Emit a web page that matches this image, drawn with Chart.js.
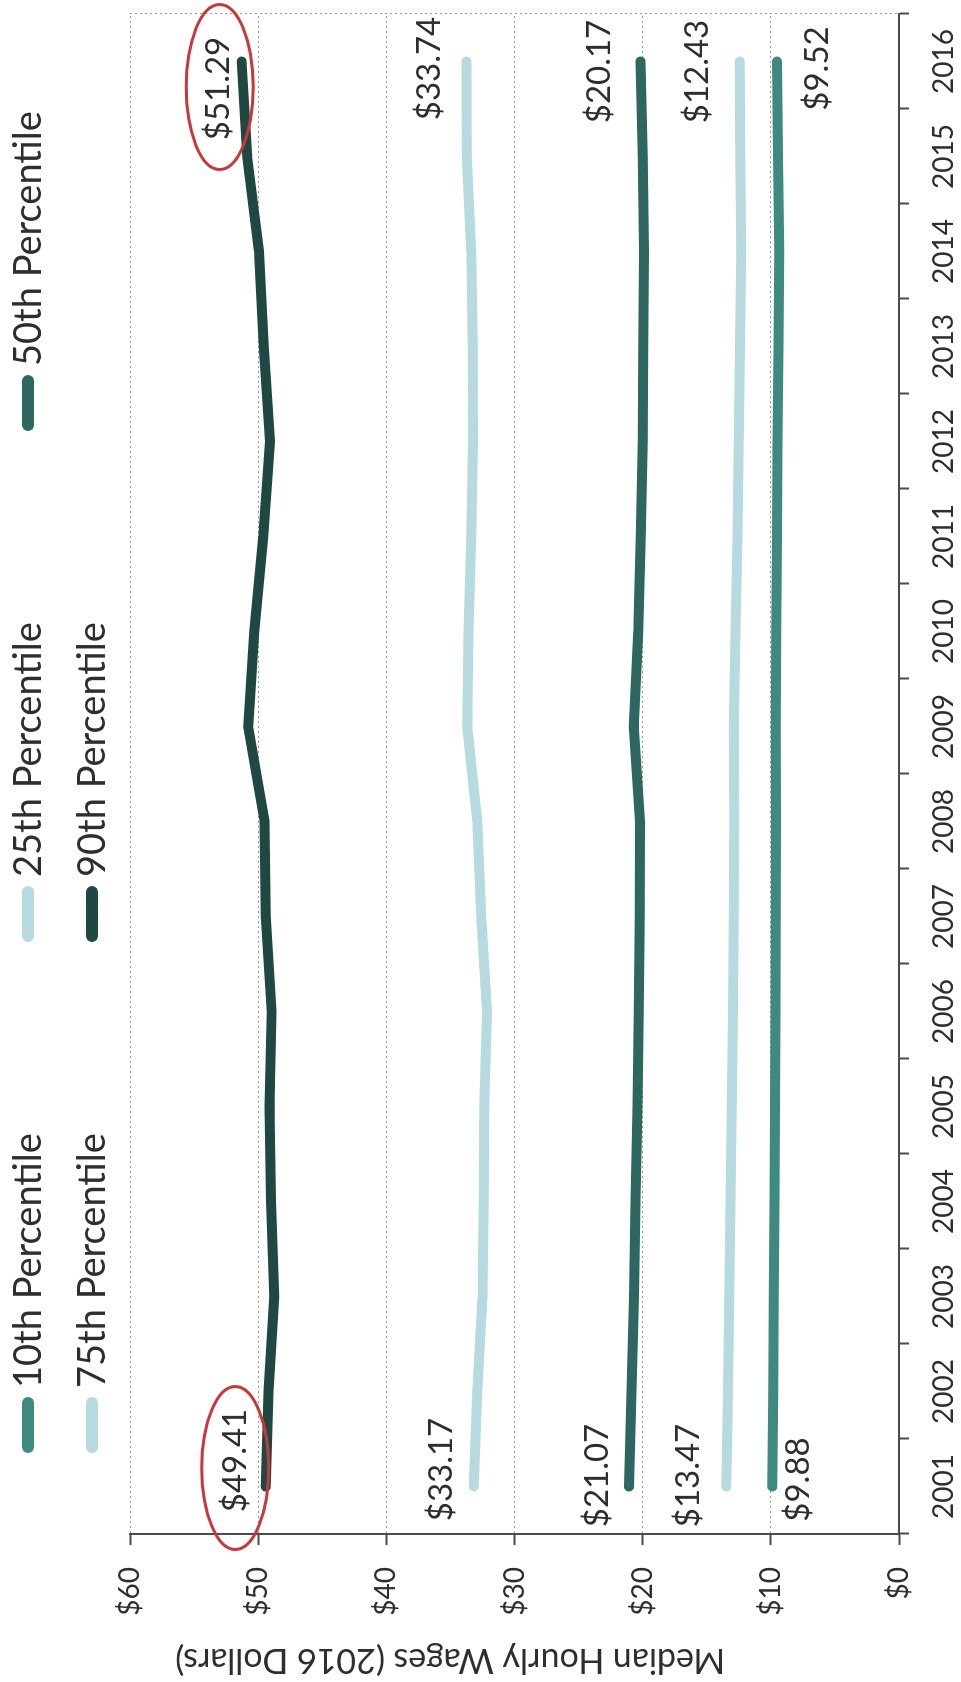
<!DOCTYPE html>
<html><head><meta charset="utf-8">
<script src="https://cdn.jsdelivr.net/npm/chart.js@4.4.0/dist/chart.umd.min.js"></script>
<style>
html,body{margin:0;padding:0;background:#fff;overflow:hidden;width:961px;height:1682px;}
#wrap{position:absolute;left:0;top:0;width:1682px;height:961px;transform-origin:0 0;transform:translate(0,1682px) rotate(-90deg);background:#fff;}
canvas{display:block}
</style></head><body>
<div id="wrap"><canvas id="c" width="1682" height="961"></canvas></div>
<script>
// ---- data ----
const years = ['2001','2002','2003','2004','2005','2006','2007','2008','2009','2010','2011','2012','2013','2014','2015','2016'];
const p10 = [9.88, 9.82, 9.78, 9.72, 9.68, 9.64, 9.62, 9.60, 9.62, 9.58, 9.52, 9.48, 9.40, 9.35, 9.45, 9.52];
const p25 = [13.47, 13.35, 13.25, 13.15, 13.05, 12.95, 12.90, 12.85, 12.90, 12.75, 12.60, 12.50, 12.40, 12.30, 12.38, 12.43];
const p50 = [21.07, 20.88, 20.67, 20.55, 20.41, 20.30, 20.22, 20.20, 20.70, 20.34, 20.15, 20.00, 19.95, 19.90, 20.00, 20.17];
const p75 = [33.17, 32.90, 32.50, 32.40, 32.36, 32.15, 32.60, 32.90, 33.68, 33.58, 33.37, 33.23, 33.25, 33.37, 33.72, 33.74];
const p90 = [49.41, 49.20, 48.75, 49.00, 49.12, 48.95, 49.40, 49.50, 50.78, 50.31, 49.61, 49.08, 49.57, 49.93, 50.86, 51.29];
const seriesNames = ['10th Percentile','25th Percentile','50th Percentile','75th Percentile','90th Percentile'];
const seriesValues = [p10, p25, p50, p75, p90];
const yTicks = [0, 10, 20, 30, 40, 50, 60];
const axisTitle = 'Median Hourly Wages (2016 Dollars)';

// ---- styles ----
const FONT = 'Lato, "Open Sans", sans-serif';
const TEXT = '#2e2e2e';
const seriesColors = ['#3e8a80', '#b7dae1', '#2d675f', '#b7dae1', '#1f4842'];
// label offsets (start point, end point) in canvas px
const labelOffsets = [
  {s:[7, 26],  e:[-7, 40]},
  {s:[11,-38], e:[-10,-42]},
  {s:[11,-32], e:[-10,-41]},
  {s:[17,-33], e:[-7,-37]},
  {s:[26,-30], e:[-27,-23]}
];
const legendCols = [229, 740, 1251];
const legendRows = [28, 92];

const deco = {
  id: 'deco',
  afterDraw(chart) {
    const {ctx, chartArea: a} = chart;
    ctx.save();
    // dotted right frame
    ctx.strokeStyle = '#9a9a9a'; ctx.lineWidth = 1; ctx.setLineDash([2,3]);
    ctx.beginPath(); ctx.moveTo(a.right + 0.5, a.top); ctx.lineTo(a.right + 0.5, a.bottom); ctx.stroke();
    ctx.setLineDash([]);

    // data labels
    ctx.font = '33px ' + FONT; ctx.fillStyle = TEXT;
    ctx.textAlign = 'center'; ctx.textBaseline = 'middle';
    seriesValues.forEach((vals, i) => {
      const meta = chart.getDatasetMeta(i);
      const p0 = meta.data[0], p1 = meta.data[vals.length - 1];
      const o = labelOffsets[i];
      ctx.fillText('$' + vals[0].toFixed(2), p0.x + o.s[0], p0.y + o.s[1]);
      ctx.fillText('$' + vals[vals.length-1].toFixed(2), p1.x + o.e[0], p1.y + o.e[1]);
    });

    // red ellipses around 90th percentile labels
    const m90 = chart.getDatasetMeta(4);
    const q0 = m90.data[0], q1 = m90.data[p90.length - 1];
    ctx.strokeStyle = '#c9373a'; ctx.lineWidth = 3;
    ctx.beginPath(); ctx.ellipse(q0.x + 18.5, q0.y - 30.5, 81.5, 33.5, 0, 0, Math.PI*2); ctx.stroke();
    ctx.beginPath(); ctx.ellipse(q1.x - 25.5, q1.y - 22, 82.5, 33.5, 0, 0, Math.PI*2); ctx.stroke();

    // legend (grid of 3 columns)
    ctx.font = '38px ' + FONT; ctx.textAlign = 'left';
    seriesNames.forEach((name, i) => {
      const u = legendCols[i % 3], v = legendRows[Math.floor(i / 3)];
      ctx.strokeStyle = seriesColors[i]; ctx.lineWidth = 12; ctx.lineCap = 'round';
      ctx.beginPath(); ctx.moveTo(u + 6, v); ctx.lineTo(u + 50, v); ctx.stroke();
      ctx.fillStyle = TEXT; ctx.fillText(name, u + 65, v + 1);
    });

    // y axis title
    ctx.translate(22, 450); ctx.rotate(-Math.PI / 2);
    ctx.font = '34px ' + FONT; ctx.textAlign = 'center'; ctx.fillStyle = TEXT;
    ctx.fillText(axisTitle, 0, 0);
    ctx.restore();
  }
};

new Chart(document.getElementById('c'), {
  type: 'line',
  data: {
    labels: years,
    datasets: seriesNames.map((n, i) => ({
      label: n, data: seriesValues[i], borderColor: seriesColors[i], backgroundColor: seriesColors[i],
      borderWidth: 10, pointRadius: 0, borderCapStyle: 'round', borderJoinStyle: 'round', tension: 0, fill: false
    }))
  },
  options: {
    responsive: false, animation: false, devicePixelRatio: 1,
    layout: {padding: {top: 130, right: 14, left: 0, bottom: 0}},
    plugins: {legend: {display: false}, tooltip: {enabled: false}},
    scales: {
      x: {
        type: 'category', offset: true,
        grid: {offset: true, drawOnChartArea: false, drawTicks: true, tickLength: 10, tickColor: '#4a4a4a', tickWidth: 2},
        border: {display: true, color: '#4a4a4a', width: 2},
        ticks: {font: {family: FONT, size: 28}, color: TEXT, padding: 18, maxRotation: 0, autoSkip: false},
        afterFit(s) { s.height = 62; }
      },
      y: {
        min: 0, max: 60,
        afterBuildTicks(s) { s.ticks = yTicks.map(v => ({value: v})); },
        ticks: {font: {family: FONT, size: 28}, color: TEXT, padding: 22, callback: v => '$' + v},
        grid: {color: c => (c.tick && c.tick.value === 0) ? 'rgba(0,0,0,0)' : '#9a9a9a', lineWidth: 1,
               tickLength: 11, tickColor: '#4a4a4a', tickWidth: 2, tickBorderDash: []},
        border: {display: true, color: '#4a4a4a', width: 2, dash: [2, 3]},
        afterFit(s) { s.width = 148; }
      }
    }
  },
  plugins: [deco]
});
</script>
</body></html>
